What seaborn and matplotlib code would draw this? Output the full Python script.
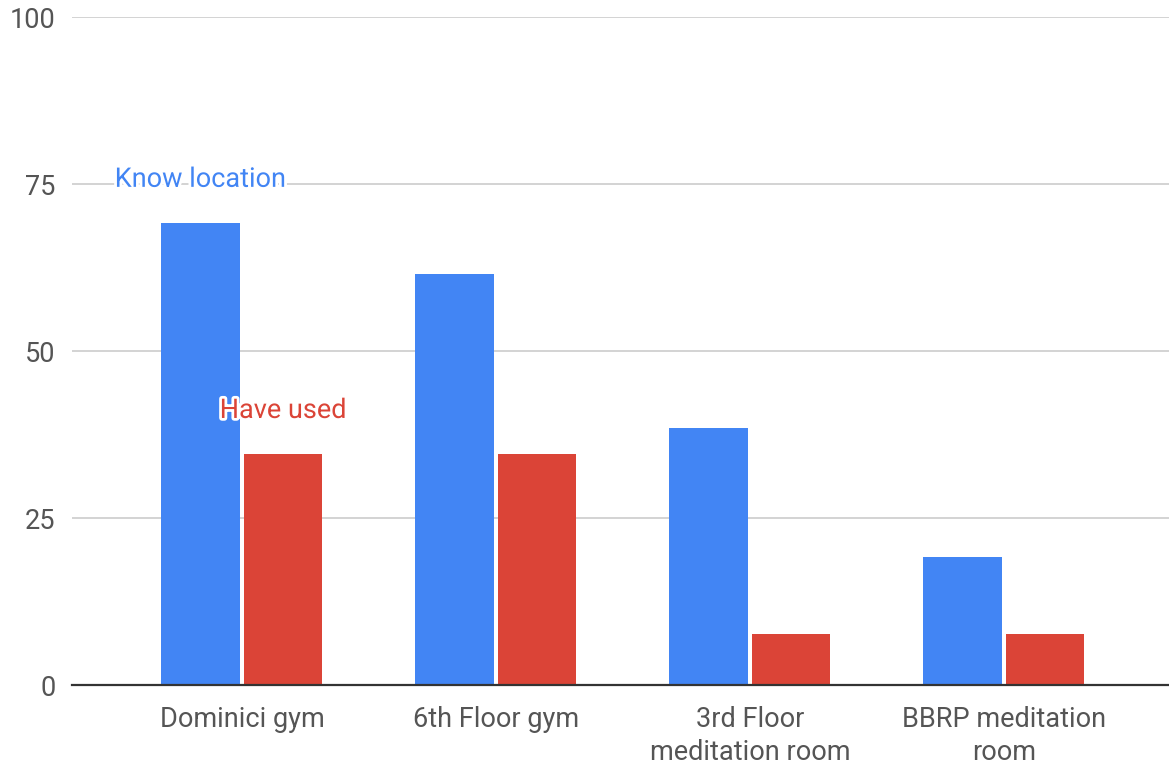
import matplotlib
matplotlib.use("Agg")
import matplotlib.pyplot as plt
import matplotlib.patheffects as pe
import seaborn as sns
import pandas as pd

# Survey results (% of respondents)
locations = ["Dominici gym", "6th Floor gym", "3rd Floor\nmeditation room", "BBRP meditation\nroom"]
know_location = [69.2, 61.5, 38.5, 19.2]
have_used = [34.6, 34.6, 7.7, 7.7]
series_names = ["Know location", "Have used"]
series_colors = ["#4285F4", "#DB4437"]
y_ticks = [0, 25, 50, 75, 100]

df = pd.DataFrame({
    "location": locations * 2,
    "value": know_location + have_used,
    "series": [series_names[0]] * len(locations) + [series_names[1]] * len(locations),
})

sns.set_theme(style="white")
plt.rcParams["font.family"] = ["Roboto", "DejaVu Sans"]

fig = plt.figure(figsize=(11.69, 7.64), dpi=100)
ax = fig.add_axes([0.0616, 0.1034, 0.9384, 0.8743])

sns.barplot(data=df, x="location", y="value", hue="series", order=locations,
            hue_order=series_names, palette=series_colors, width=0.65, gap=0.05,
            saturation=1, linewidth=0, legend=False, ax=ax)

FS = 19.5
ax.set_ylim(0, 100)
ax.set_xlim(-0.669, 3.65)
ax.set_yticks(y_ticks)
ax.set_yticklabels([str(t) for t in y_ticks])
ax.yaxis.grid(True, color="#cccccc", linewidth=1.2)
ax.set_axisbelow(True)
for s in ["top", "right", "left"]:
    ax.spines[s].set_visible(False)
ax.spines["bottom"].set_color("#333333")
ax.spines["bottom"].set_linewidth(1.6)
ax.spines["bottom"].set_zorder(5)
ax.set_xlabel("")
ax.set_ylabel("")
ax.tick_params(axis="both", length=0, labelsize=FS, colors="#555555")
ax.tick_params(axis="y", pad=12)
ax.tick_params(axis="x", pad=15)
for lbl in ax.get_xticklabels():
    lbl.set_linespacing(1.3)
    lbl.set_verticalalignment("top")

# Inline series labels above the first bar of each series
for container, name, color in zip(ax.containers, series_names, series_colors):
    bar = container.patches[0]
    x = bar.get_x() + bar.get_width() / 2
    y = bar.get_height() + 6.5
    ax.text(x, y, name, ha="center", va="center", fontsize=FS, color=color,
            zorder=6, path_effects=[pe.withStroke(linewidth=4, foreground="white")])

fig.savefig("out.png", dpi=100, facecolor="white")
